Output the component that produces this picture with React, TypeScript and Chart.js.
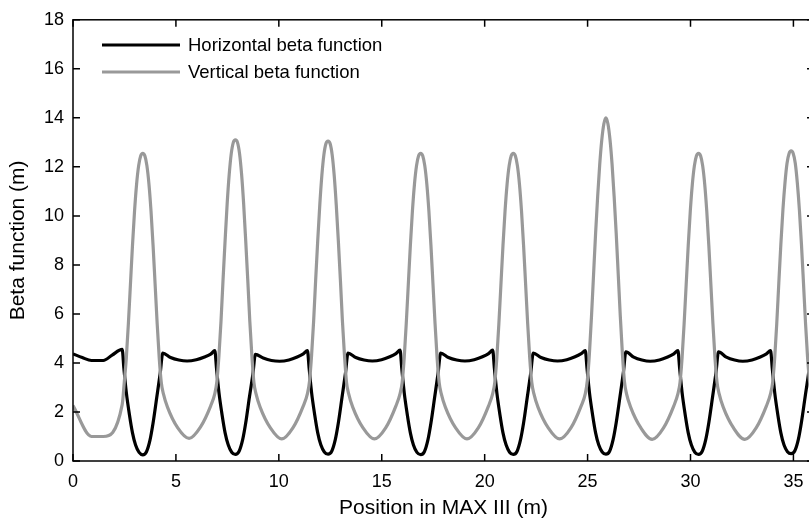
import React, { useEffect, useRef } from "react";
import { Chart, registerables } from "chart.js";

Chart.register(...registerables);

// ---- Data ----
const xTicks = [0, 5, 10, 15, 20, 25, 30, 35];
const yTicks = [0, 2, 4, 6, 8, 10, 12, 14, 16, 18];

const horizontalLabel = "Horizontal beta function";
const verticalLabel = "Vertical beta function";

const horizontalX = [
  0, 0.45, 0.9, 1.2, 1.47, 1.9,
  2.39, 2.47, 2.59, 2.74, 2.89, 3.04, 3.21, 3.39, 3.57, 3.74, 3.89, 4.07, 4.24, 4.36, 4.74, 5.14, 5.54, 5.99, 6.39, 6.69,
  6.89, 6.97, 7.09, 7.24, 7.39, 7.54, 7.71, 7.89, 8.07, 8.24, 8.39, 8.57, 8.74, 8.86, 9.24, 9.64, 10.04, 10.49, 10.89, 11.19,
  11.39, 11.47, 11.59, 11.74, 11.89, 12.04, 12.21, 12.39, 12.57, 12.74, 12.89, 13.07, 13.24, 13.36, 13.74, 14.14, 14.54, 14.99, 15.39, 15.69,
  15.89, 15.97, 16.09, 16.24, 16.39, 16.54, 16.71, 16.89, 17.07, 17.24, 17.39, 17.57, 17.74, 17.86, 18.24, 18.64, 19.04, 19.49, 19.89, 20.19,
  20.39, 20.47, 20.59, 20.74, 20.89, 21.04, 21.21, 21.39, 21.57, 21.74, 21.89, 22.07, 22.24, 22.36, 22.74, 23.14, 23.54, 23.99, 24.39, 24.69,
  24.89, 24.97, 25.09, 25.24, 25.39, 25.54, 25.71, 25.89, 26.07, 26.24, 26.39, 26.57, 26.74, 26.86, 27.24, 27.64, 28.04, 28.49, 28.89, 29.19,
  29.39, 29.47, 29.59, 29.74, 29.89, 30.04, 30.21, 30.39, 30.57, 30.74, 30.89, 31.07, 31.24, 31.36, 31.74, 32.14, 32.54, 32.99, 33.39, 33.69,
  33.89, 33.97, 34.09, 34.24, 34.39, 34.54, 34.71, 34.89, 35.07, 35.24, 35.39, 35.57, 35.74, 35.86, 36.2,
];
const horizontalY = [
  4.37, 4.22, 4.1, 4.1, 4.1, 4.32,
  4.55, 3.8, 2.8, 1.9, 1.15, 0.65, 0.35, 0.25, 0.38, 0.85, 1.55, 2.6, 3.6, 4.4, 4.22, 4.12, 4.08, 4.13, 4.24, 4.36,
  4.5, 3.8, 2.8, 1.9, 1.15, 0.66, 0.36, 0.27, 0.4, 0.86, 1.55, 2.6, 3.55, 4.35, 4.2, 4.1, 4.07, 4.12, 4.24, 4.37,
  4.5, 3.8, 2.8, 1.9, 1.15, 0.66, 0.37, 0.28, 0.4, 0.86, 1.55, 2.6, 3.6, 4.4, 4.22, 4.12, 4.08, 4.13, 4.25, 4.38,
  4.52, 3.8, 2.8, 1.9, 1.15, 0.65, 0.35, 0.26, 0.38, 0.85, 1.55, 2.6, 3.6, 4.4, 4.22, 4.12, 4.08, 4.13, 4.25, 4.38,
  4.52, 3.8, 2.8, 1.9, 1.15, 0.66, 0.36, 0.27, 0.39, 0.86, 1.55, 2.6, 3.6, 4.4, 4.22, 4.12, 4.08, 4.13, 4.25, 4.38,
  4.5, 3.8, 2.8, 1.9, 1.15, 0.66, 0.37, 0.28, 0.4, 0.87, 1.56, 2.6, 3.62, 4.45, 4.24, 4.12, 4.07, 4.12, 4.24, 4.37,
  4.5, 3.8, 2.8, 1.9, 1.15, 0.66, 0.36, 0.27, 0.4, 0.87, 1.56, 2.6, 3.62, 4.45, 4.24, 4.12, 4.07, 4.12, 4.24, 4.37,
  4.5, 3.8, 2.8, 1.9, 1.15, 0.66, 0.38, 0.3, 0.42, 0.88, 1.58, 2.62, 3.6, 4.42, 4.26,
];

const verticalX = [
  0, 0.9, 1.47,
  2.39, 2.49, 2.59, 2.69, 2.79, 2.89, 2.99, 3.09, 3.19, 3.29, 3.39, 3.49, 3.59, 3.69, 3.79, 3.89, 3.99, 4.09, 4.19, 4.29, 4.39, 4.59, 5.09, 5.64,
  6.19, 6.69, 6.89, 6.99, 7.09, 7.19, 7.29, 7.39, 7.49, 7.59, 7.69, 7.79, 7.89, 7.99, 8.09, 8.19, 8.29, 8.39, 8.49, 8.59, 8.69, 8.79, 8.89, 9.09, 9.59, 10.14,
  10.69, 11.19, 11.39, 11.49, 11.59, 11.69, 11.79, 11.89, 11.99, 12.09, 12.19, 12.29, 12.39, 12.49, 12.59, 12.69, 12.79, 12.89, 12.99, 13.09, 13.19, 13.29, 13.39, 13.59, 14.09, 14.64,
  15.19, 15.69, 15.89, 15.99, 16.09, 16.19, 16.29, 16.39, 16.49, 16.59, 16.69, 16.79, 16.89, 16.99, 17.09, 17.19, 17.29, 17.39, 17.49, 17.59, 17.69, 17.79, 17.89, 18.09, 18.59, 19.14,
  19.69, 20.19, 20.39, 20.49, 20.59, 20.69, 20.79, 20.89, 20.99, 21.09, 21.19, 21.29, 21.39, 21.49, 21.59, 21.69, 21.79, 21.89, 21.99, 22.09, 22.19, 22.29, 22.39, 22.59, 23.09, 23.64,
  24.19, 24.69, 24.89, 24.99, 25.09, 25.19, 25.29, 25.39, 25.49, 25.59, 25.69, 25.79, 25.89, 25.99, 26.09, 26.19, 26.29, 26.39, 26.49, 26.59, 26.69, 26.79, 26.89, 27.09, 27.59, 28.14,
  28.69, 29.19, 29.39, 29.49, 29.59, 29.69, 29.79, 29.89, 29.99, 30.09, 30.19, 30.29, 30.39, 30.49, 30.59, 30.69, 30.79, 30.89, 30.99, 31.09, 31.19, 31.29, 31.39, 31.59, 32.09, 32.64,
  33.19, 33.69, 33.89, 33.99, 34.09, 34.19, 34.29, 34.39, 34.49, 34.59, 34.69, 34.79, 34.89, 34.99, 35.09, 35.19, 35.29, 35.39, 35.49, 35.59, 35.69, 35.79, 35.89, 36.09,
];
const verticalY = [
  2.26, 1.0, 1.0,
  2.3, 3.2, 4.2, 5.6, 7.2, 8.8, 10.2, 11.3, 12.05, 12.45, 12.55, 12.45, 12.05, 11.3, 10.2, 8.8, 7.2, 5.6, 4.2, 3.2, 2.75, 2.2, 1.35, 0.92,
  1.38, 2.25, 2.75, 3.25, 4.3, 5.7, 7.4, 9.0, 10.5, 11.7, 12.55, 13.0, 13.1, 13.0, 12.55, 11.7, 10.5, 9.0, 7.4, 5.7, 4.3, 3.2, 2.75, 2.2, 1.35, 0.9,
  1.36, 2.25, 2.75, 3.25, 4.3, 5.7, 7.4, 9.0, 10.45, 11.65, 12.5, 12.95, 13.05, 12.95, 12.5, 11.65, 10.45, 9.0, 7.4, 5.7, 4.3, 3.2, 2.75, 2.2, 1.35, 0.9,
  1.35, 2.25, 2.75, 3.2, 4.2, 5.6, 7.2, 8.8, 10.2, 11.3, 12.05, 12.45, 12.55, 12.45, 12.05, 11.3, 10.2, 8.8, 7.2, 5.6, 4.2, 3.2, 2.75, 2.2, 1.35, 0.9,
  1.35, 2.25, 2.75, 3.2, 4.2, 5.6, 7.2, 8.8, 10.2, 11.3, 12.05, 12.45, 12.55, 12.45, 12.05, 11.3, 10.2, 8.8, 7.2, 5.6, 4.2, 3.2, 2.75, 2.2, 1.35, 0.9,
  1.35, 2.25, 2.75, 3.3, 4.4, 5.9, 7.6, 9.3, 10.8, 12.1, 13.1, 13.75, 14.0, 13.75, 13.1, 12.1, 10.8, 9.3, 7.6, 5.9, 4.4, 3.25, 2.75, 2.2, 1.35, 0.88,
  1.35, 2.25, 2.75, 3.2, 4.2, 5.6, 7.2, 8.8, 10.2, 11.3, 12.05, 12.45, 12.55, 12.45, 12.05, 11.3, 10.2, 8.8, 7.2, 5.6, 4.2, 3.2, 2.75, 2.2, 1.35, 0.88,
  1.35, 2.25, 2.75, 3.2, 4.2, 5.6, 7.25, 8.85, 10.25, 11.35, 12.15, 12.55, 12.65, 12.55, 12.15, 11.35, 10.25, 8.85, 7.25, 5.6, 4.2, 3.2, 2.75, 2.2,
];

const FONT_FAMILY = "'Liberation Sans', Arial, Helvetica, sans-serif";
const TICK_FONT_SIZE = 18;
const TITLE_FONT_SIZE = 21;
const LEGEND_FONT_SIZE = 18.5;
const TICK_LEN = 7;

const framePlugin = {
  id: "frameTicks",
  afterDatasetsDraw(chart: any) {
    const { ctx, chartArea } = chart;
    const { left, top, right, bottom } = chartArea;
    const xs = chart.scales.x;
    const ys = chart.scales.y;
    ctx.save();
    ctx.strokeStyle = "#000";
    ctx.lineWidth = 1.5;
    ctx.strokeRect(left, top, right - left, bottom - top);
    ctx.beginPath();
    xs.ticks.forEach((t: any) => {
      const px = xs.getPixelForValue(t.value);
      ctx.moveTo(px, bottom);
      ctx.lineTo(px, bottom - TICK_LEN);
      ctx.moveTo(px, top);
      ctx.lineTo(px, top + TICK_LEN);
    });
    ys.ticks.forEach((t: any) => {
      const py = ys.getPixelForValue(t.value);
      ctx.moveTo(left, py);
      ctx.lineTo(left + TICK_LEN, py);
      ctx.moveTo(right, py);
      ctx.lineTo(right - TICK_LEN, py);
    });
    ctx.stroke();
    ctx.restore();
  },
};

const legendPlugin = {
  id: "insideLegend",
  afterDraw(chart: any) {
    const { ctx } = chart;
    ctx.save();
    ctx.font = `${LEGEND_FONT_SIZE}px ${FONT_FAMILY}`;
    ctx.textBaseline = "middle";
    ctx.textAlign = "left";
    chart.data.datasets.forEach((ds: any, i: number) => {
      const y = 45 + i * 27;
      ctx.strokeStyle = ds.borderColor;
      ctx.lineWidth = ds.borderWidth;
      ctx.beginPath();
      ctx.moveTo(102, y);
      ctx.lineTo(180, y);
      ctx.stroke();
      ctx.fillStyle = "#000";
      ctx.fillText(ds.label, 188, y + 1);
    });
    ctx.restore();
  },
};

export default function App() {
  const ref = useRef<HTMLCanvasElement | null>(null);

  useEffect(() => {
    if (!ref.current) return;
    const tickFont = { family: FONT_FAMILY, size: TICK_FONT_SIZE };
    const titleFont = { family: FONT_FAMILY, size: TITLE_FONT_SIZE };
    const chart = new Chart(ref.current, {
      type: "line",
      data: {
        datasets: [
          {
            label: horizontalLabel,
            data: horizontalX.map((x, i) => ({ x, y: horizontalY[i] })),
            borderColor: "#000000",
            borderWidth: 3.2,
            pointRadius: 0,
            fill: false,
            cubicInterpolationMode: "monotone",
            order: 1,
          },
          {
            label: verticalLabel,
            data: verticalX.map((x, i) => ({ x, y: verticalY[i] })),
            borderColor: "#999999",
            borderWidth: 3.2,
            pointRadius: 0,
            fill: false,
            cubicInterpolationMode: "monotone",
            order: 0,
          },
        ],
      },
      options: {
        animation: false,
        responsive: false,
        maintainAspectRatio: false,
        layout: { padding: { top: 15, right: 0, left: 0, bottom: 0 } },
        plugins: { legend: { display: false }, tooltip: { enabled: false } },
        scales: {
          x: {
            type: "linear",
            min: 0,
            max: 36,
            afterBuildTicks: (s: any) => {
              s.ticks = xTicks.map((v) => ({ value: v }));
            },
            afterFit: (s: any) => {
              s.height = 64;
            },
            grid: { display: false, drawTicks: false },
            border: { display: false },
            ticks: { font: tickFont, color: "#000", padding: 10, maxRotation: 0, autoSkip: false },
            title: {
              display: true,
              text: "Position in MAX III (m)",
              font: titleFont,
              color: "#000",
              padding: { top: 0, bottom: 4 },
            },
          },
          y: {
            type: "linear",
            min: 0,
            max: 18,
            afterBuildTicks: (s: any) => {
              s.ticks = yTicks.map((v) => ({ value: v }));
            },
            afterFit: (s: any) => {
              s.width = 73;
            },
            grid: { display: false, drawTicks: false },
            border: { display: false },
            ticks: { font: tickFont, color: "#000", padding: 9, autoSkip: false },
            title: {
              display: true,
              text: "Beta function (m)",
              font: titleFont,
              color: "#000",
              padding: { top: 6, bottom: 0 },
            },
          },
        },
      },
      plugins: [framePlugin, legendPlugin],
    } as any);
    return () => chart.destroy();
  }, []);

  return (
    <div
      style={{
        position: "absolute",
        left: 0,
        top: 0,
        width: 809,
        height: 525,
        overflow: "hidden",
        background: "#fff",
      }}
    >
      <canvas ref={ref} width={814} height={525} style={{ display: "block", width: 814, height: 525 }} />
    </div>
  );
}
